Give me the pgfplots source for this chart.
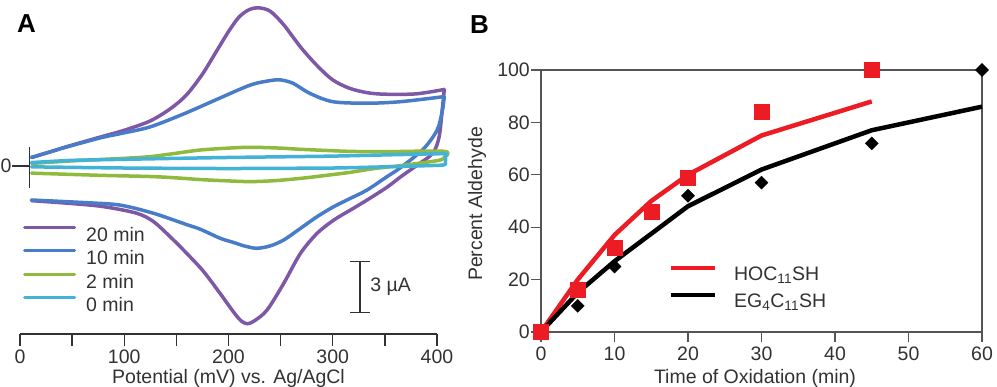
\documentclass[border=0pt]{standalone}
\usepackage{fontspec}
\setmainfont{Liberation Sans}
\usepackage{pgfplots}
\usepackage{pgfplotstable}
\pgfplotsset{compat=1.18}

\definecolor{cvpurple}{RGB}{126,88,166}
\definecolor{cvblue}{RGB}{72,124,200}
\definecolor{cvgreen}{RGB}{143,186,62}
\definecolor{cvcyan}{RGB}{66,178,214}
\definecolor{hocred}{RGB}{237,28,36}
\definecolor{txt}{RGB}{50,50,50}
\definecolor{axgray}{RGB}{85,85,85}

% Cyclic voltammograms: potential (mV) vs. current (uA); anodic sweep then cathodic return
\pgfplotstableread{
E I
11 0.50
30 0.85
45 1.14
77 1.70
100 2.10
125 2.65
145 3.40
160 4.20
175 5.40
189 6.80
200 7.90
210 8.75
220 9.20
229 9.30
240 9.10
253 8.30
269 7.00
285 5.90
300 5.06
316 4.57
333 4.31
350 4.22
380 4.24
407 4.50
}\cvtwentyup
\pgfplotstableread{
E I
407 4.50
405 3.30
402 1.70
396 0.75
381 0.05
366 -0.60
352 -1.25
333 -2.00
317 -2.59
301 -3.18
285 -3.96
269 -5.14
253 -6.90
237 -8.47
225 -9.10
218 -9.28
212 -9.10
205 -8.60
192 -7.50
176 -6.20
160 -5.14
144 -4.16
128 -3.27
112 -2.78
80 -2.39
48 -2.20
11 -2.04
}\cvtwentydown
\pgfplotstableread{
E I
11 0.50
30 0.85
45 1.12
77 1.65
100 1.95
125 2.30
157 3.06
189 3.92
221 4.76
240 5.02
250 5.06
262 4.86
278 4.27
300 3.78
333 3.69
365 3.78
407 4.08
}\cvtenup
\pgfplotstableread{
E I
407 4.08
405 3.20
400 2.10
387 1.00
365 -0.10
352 -0.63
333 -1.41
317 -1.90
301 -2.39
285 -2.98
269 -3.67
253 -4.35
240 -4.70
227 -4.84
215 -4.70
205 -4.50
192 -4.25
173 -3.72
160 -3.45
128 -2.78
96 -2.30
64 -2.16
11 -2.00
}\cvtendown
\pgfplotstableread{
E I
11 0.15
50 0.30
100 0.45
125 0.55
150 0.75
173 0.94
200 1.05
221 1.10
250 1.05
269 0.98
316 0.86
350 0.84
407 0.86
407 0.50
403 0.35
390 0.22
365 0.02
340 -0.15
316 -0.38
290 -0.58
269 -0.73
245 -0.86
221 -0.92
197 -0.87
173 -0.80
150 -0.70
125 -0.62
77 -0.55
11 -0.42
}\cvtwo
\pgfplotstableread{
E I
11 0.20
50 0.33
125 0.42
200 0.50
300 0.58
405 0.72
408 0.55
408 0.20
405 0.05
350 -0.05
300 -0.12
200 -0.15
100 -0.12
11 -0.05
}\cvzero

% Percent aldehyde vs. oxidation time
\pgfplotstableread{
t p
0 0
5 16
10 32
15 46
20 59
30 84
45 100
}\hocdata
\pgfplotstableread{
t p
0 0
5 20
10 37
15 50
20 60
30 75
45 88
}\hocfit
\pgfplotstableread{
t p
0 0
5 10
10 25
20 52
30 57
45 72
60 100
}\egdata
\pgfplotstableread{
t p
0 0
5 15
10 27
20 48
30 62
45 77
60 86
}\egfit

\newcommand{\lbl}{\fontsize{19.5bp}{23bp}\selectfont}

\begin{document}
\lbl
\begin{tikzpicture}
\path[use as bounding box] (0bp,0bp) rectangle (997bp,387bp);

% ---------------- Panel A ----------------
\begin{axis}[
  at={(20bp,53bp)}, anchor=south west,
  scale only axis, width=417bp, height=334bp,
  xmin=0, xmax=400, ymin=-9.88, ymax=9.76,
  clip=false,
  axis x line*=bottom, axis y line=none,
  x axis line style={-, draw=txt, line width=1.3bp},
  xtick={0,100,200,300,400},
  minor xtick={50,150,250,350},
  tick align=outside,
  major tick length=12bp, minor tick length=12bp,
  tick style={draw=txt, line width=1.3bp},
  minor tick style={draw=txt, line width=1.3bp},
  /pgf/number format/assume math mode=true,
  ticklabel style={font=\lbl, text=txt},
  xticklabel style={inner sep=0pt, yshift=-3.5bp},
  legend style={at={(axis cs:2.9,-3.51)}, anchor=north west, draw=none, fill=none,
    inner sep=0pt, row sep=8bp, font=\lbl, text=txt,
    nodes={inner sep=0pt, text height=14bp, text depth=0bp}},
  legend cell align=left,
  legend image code/.code={\draw[#1, line width=3bp] (0bp,7bp) -- (50bp,7bp);},
  every axis plot/.append style={line width=3.5bp, line join=round, line cap=round},
]
\addplot[cvpurple, smooth, tension=0.5] table[x=E, y=I] {\cvtwentyup};
\addplot[cvpurple, smooth, tension=0.5, forget plot] table[x=E, y=I] {\cvtwentydown};
\addplot[cvblue, smooth, tension=0.5] table[x=E, y=I] {\cvtenup};
\addplot[cvblue, smooth, tension=0.5, forget plot] table[x=E, y=I] {\cvtendown};
\addplot[cvgreen, smooth, tension=0.5] table[x=E, y=I] {\cvtwo};
\addplot[cvcyan, smooth, tension=0.3] table[x=E, y=I] {\cvzero};
\legend{\hspace*{10bp}20 min, \hspace*{10bp}10 min, \hspace*{10bp}2 min, \hspace*{10bp}0 min}

% zero-current marker
\draw[txt, line width=1.3bp] (axis cs:9,1.12) -- (axis cs:9,-1.29);
\draw[txt, line width=1.3bp] (axis cs:-7.6,0) -- (axis cs:9,0);

% current scale bar
\draw[txt, line width=1.3bp] (axis cs:326,-5.62) -- (axis cs:326,-8.62);
\draw[txt, line width=1.3bp] (axis cs:316.5,-5.62) -- (axis cs:335.7,-5.62);
\draw[txt, line width=1.3bp] (axis cs:316.5,-8.62) -- (axis cs:335.7,-8.62);
\node[anchor=west, inner sep=0pt, text=txt, font=\lbl] at (axis cs:336,-7.12) {3 µA};
\end{axis}

\node[anchor=west, inner sep=0pt, text=txt, font=\lbl] at (0.5bp,221bp) {0};
\node[text=txt, font=\lbl, anchor=base, inner sep=0pt] at (228.5bp,4bp) {Potential (mV) vs. Ag/AgCl};
\node[font=\fontsize{26bp}{30bp}\selectfont\bfseries] at (26.5bp,363bp) {A};

% ---------------- Panel B ----------------
\begin{axis}[
  at={(541bp,55bp)}, anchor=south west,
  scale only axis, width=441bp, height=262bp,
  xmin=0, xmax=60, ymin=0, ymax=100,
  clip=false,
  xtick={0,10,...,60}, ytick={0,20,...,100},
  tick pos=left, tick align=outside,
  major tick length=10bp,
  axis line style={draw=axgray, line width=1.3bp},
  tick style={draw=axgray, line width=1.3bp},
  /pgf/number format/assume math mode=true,
  ticklabel style={font=\lbl, text=txt},
  xticklabel style={inner sep=0pt, yshift=-5bp},
  yticklabel style={inner sep=1bp},
  legend style={at={(axis cs:17.4,16.85)}, anchor=west, draw=none, fill=none,
    inner sep=0pt, row sep=10bp, font=\lbl, text=txt,
    nodes={inner sep=0pt, text height=14bp, text depth=2bp}},
  legend cell align=left,
  legend image code/.code={\draw[#1, line width=4bp] (0bp,7bp) -- (44bp,7bp);},
]
\addplot[hocred, line width=4.5bp, line join=round] table[x=t, y=p] {\hocfit};
\addplot[black, line width=4.5bp, line join=round] table[x=t, y=p] {\egfit};
\addplot[only marks, mark=square*, mark size=4.6bp, mark options={rotate=45}, black, forget plot] table[x=t, y=p] {\egdata};
\addplot[only marks, mark=square*, mark size=7.5bp, hocred, forget plot] table[x=t, y=p] {\hocdata};
\legend{\hspace*{17bp}HOC\textsubscript{11}SH, \hspace*{17bp}EG\textsubscript{4}C\textsubscript{11}SH}
\end{axis}

\node[text=txt, font=\lbl, anchor=base, inner sep=0pt] at (755bp,4bp) {Time of Oxidation (min)};
\node[text=txt, font=\lbl, rotate=90] at (477bp,183bp) {Percent Aldehyde};
\node[font=\fontsize{26bp}{30bp}\selectfont\bfseries] at (479.5bp,362.5bp) {B};
\end{tikzpicture}
\end{document}
